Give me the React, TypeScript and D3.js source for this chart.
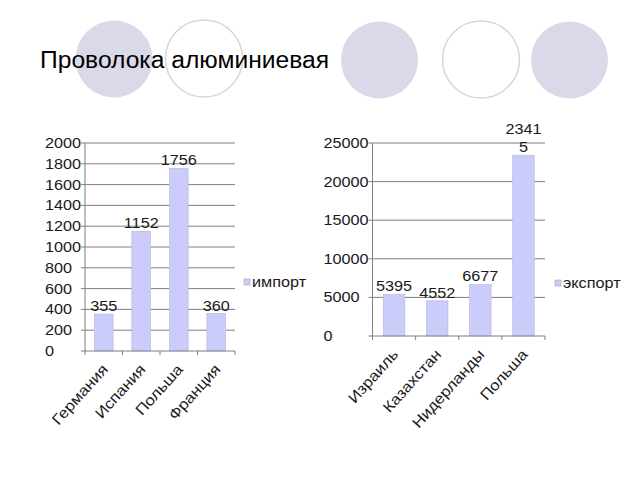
import React, { useEffect, useRef } from "react";
import * as d3 from "d3";

const title = "Проволока алюминиевая";

const importCountries = ["Германия", "Испания", "Польша", "Франция"];
const importValues = [355, 1152, 1756, 360];
const importTicks = [0, 200, 400, 600, 800, 1000, 1200, 1400, 1600, 1800, 2000];
const importLegend = "импорт";

const exportCountries = ["Израиль", "Казахстан", "Нидерланды", "Польша"];
const exportValues = [5395, 4552, 6677, 23415];
const exportTicks = [0, 5000, 10000, 15000, 20000, 25000];
const exportLegend = "экспорт";

const FONT = "'Liberation Sans', Arial, sans-serif";
const SX = 1.16; // text in the slide is a bit stretched sideways
const BAR = "#ccccfa";
const LINE = "#7f7f7f";

type ChartOpts = {
  x0: number; x1: number; yTop: number; yBottom: number;
  labelX: number;
  cats: string[]; values: number[]; ticks: number[];
  legend: string; legendX: number; legendY: number;
  wrapAt: number;
};

function drawChart(svg: d3.Selection<SVGSVGElement, unknown, null, undefined>, o: ChartOpts) {
  const g = svg.append("g");
  const x = d3.scaleBand<string>().domain(o.cats).range([o.x0, o.x1])
    .paddingInner(0.5).paddingOuter(0.25);
  const maxTick = o.ticks[o.ticks.length - 1];
  const y = d3.scaleLinear().domain([0, maxTick]).range([o.yBottom, o.yTop]);

  // gridlines
  g.selectAll("line.grid").data(o.ticks.slice(1)).enter().append("line")
    .attr("x1", o.x0).attr("x2", o.x1)
    .attr("y1", d => y(d)).attr("y2", d => y(d))
    .attr("stroke", LINE).attr("stroke-width", 1);

  // y axis + ticks
  g.append("line").attr("x1", o.x0).attr("x2", o.x0).attr("y1", o.yTop).attr("y2", o.yBottom)
    .attr("stroke", LINE);
  g.selectAll("line.yt").data(o.ticks).enter().append("line")
    .attr("x1", o.x0 - 4).attr("x2", o.x0)
    .attr("y1", d => y(d)).attr("y2", d => y(d))
    .attr("stroke", LINE);
  // tick labels are left aligned in the slide
  g.selectAll("text.yl").data(o.ticks).enter().append("text")
    .attr("transform", d => `translate(${o.labelX},${y(d)}) scale(${SX},1)`)
    .attr("dy", "0.36em")
    .attr("font-size", 14)
    .attr("fill", "#1a1a1a")
    .text(d => String(d));

  // bars
  g.selectAll("rect.bar").data(o.values).enter().append("rect")
    .attr("x", (_, i) => x(o.cats[i])!)
    .attr("width", x.bandwidth())
    .attr("y", d => y(d))
    .attr("height", d => o.yBottom - y(d))
    .attr("fill", BAR)
    .attr("stroke", "#b4b4e6").attr("stroke-width", 0.6);

  // x axis + category boundary ticks
  g.append("line").attr("x1", o.x0).attr("x2", o.x1).attr("y1", o.yBottom).attr("y2", o.yBottom)
    .attr("stroke", LINE);
  const step = x.step();
  g.selectAll("line.xt").data(d3.range(o.cats.length + 1)).enter().append("line")
    .attr("x1", i => o.x0 + i * step).attr("x2", i => o.x0 + i * step)
    .attr("y1", o.yBottom).attr("y2", o.yBottom + 4)
    .attr("stroke", LINE);

  // category labels
  g.selectAll("text.cat").data(o.cats).enter().append("text")
    .attr("transform", d => `translate(${x(d)! + x.bandwidth() / 2 + 5},${o.yBottom + 19}) rotate(-48) scale(1.12,1)`)
    .attr("text-anchor", "end")
    .attr("font-size", 15)
    .attr("fill", "#1a1a1a")
    .text(d => d);

  // value labels, wrapped like the slide does for long numbers
  o.values.forEach((v, i) => {
    const s = String(v);
    const lines: string[] = [];
    for (let k = 0; k < s.length; k += o.wrapAt) lines.push(s.slice(k, k + o.wrapAt));
    const cx = x(o.cats[i])! + x.bandwidth() / 2;
    const t = g.append("text")
      .attr("transform", `translate(${cx},${y(v) - 3}) scale(${SX},1)`)
      .attr("text-anchor", "middle")
      .attr("font-size", 14)
      .attr("fill", "#1a1a1a");
    lines.forEach((ln, j) => {
      t.append("tspan").attr("x", 0).attr("y", -(lines.length - 1 - j) * 18).text(ln);
    });
  });

  // legend
  g.append("rect").attr("x", o.legendX).attr("y", o.legendY - 3).attr("width", 6).attr("height", 6)
    .attr("fill", BAR).attr("stroke", "#a0a0cc").attr("stroke-width", 0.6);
  g.append("text")
    .attr("transform", `translate(${o.legendX + 8},${o.legendY}) scale(${SX},1)`)
    .attr("dy", "0.36em")
    .attr("font-size", 14)
    .attr("fill", "#1a1a1a")
    .text(o.legend);
}

const App = () => {
  const ref = useRef<SVGSVGElement>(null);

  useEffect(() => {
    const svg = d3.select(ref.current!);
    svg.selectAll("*").remove();
    svg.attr("font-family", FONT);

    // background ovals of the slide template
    const bg = [
      { cx: 114, cy: 59, filled: true },
      { cx: 204, cy: 58.5, filled: false },
      { cx: 379.5, cy: 60, filled: true },
      { cx: 481, cy: 59.5, filled: false },
      { cx: 569.5, cy: 60, filled: true },
    ];
    svg.selectAll("circle.bg").data(bg).enter().append("circle")
      .attr("cx", d => d.cx).attr("cy", d => d.cy).attr("r", 38.5)
      .attr("fill", d => (d.filled ? "#d9d9ea" : "#ffffff"))
      .attr("stroke", d => (d.filled ? "none" : "#d6d6de"))
      .attr("stroke-width", 1.5);

    svg.append("text")
      .attr("x", 40).attr("y", 68)
      .attr("font-size", 23)
      .attr("textLength", 289).attr("lengthAdjust", "spacingAndGlyphs")
      .attr("fill", "#000")
      .text(title);

    drawChart(svg, {
      x0: 85, x1: 235, yTop: 143, yBottom: 351, labelX: 45,
      cats: importCountries, values: importValues, ticks: importTicks,
      legend: importLegend, legendX: 244, legendY: 282, wrapAt: 4,
    });
    drawChart(svg, {
      x0: 372.5, x1: 545, yTop: 143, yBottom: 336, labelX: 323.5,
      cats: exportCountries, values: exportValues, ticks: exportTicks,
      legend: exportLegend, legendX: 555, legendY: 283, wrapAt: 4,
    });
  }, []);

  return (
    <svg ref={ref} width={640} height={480}
      style={{ position: "absolute", left: 0, top: 0, background: "#fff" }} />
  );
};

export default App;
